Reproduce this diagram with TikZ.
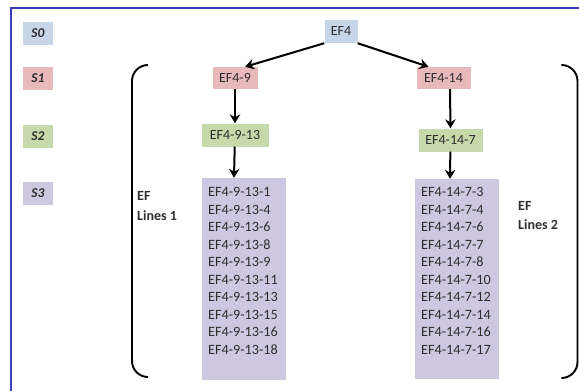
\documentclass[tikz,border=0pt]{standalone}
\usepackage{fontspec}
\setmainfont{Carlito}
\usetikzlibrary{arrows.meta}
\definecolor{cS0}{HTML}{C7D5E9}
\definecolor{cS1}{HTML}{E8B9BA}
\definecolor{cS2}{HTML}{C5D9AA}
\definecolor{cS3}{HTML}{CDC8DF}
\definecolor{frameblue}{HTML}{3C3DB4}
\definecolor{txt}{HTML}{2E2E2E}
\tikzset{
  box/.style={rectangle, inner sep=0pt, minimum height=23pt, text=txt,
    font=\fontsize{14}{17}\selectfont},
  lvl/.style={box, minimum width=30pt, font=\fontsize{13.5}{16}\selectfont\bfseries\itshape},
  listbox/.style={rectangle, fill=cS3, inner sep=0pt, minimum width=84pt},
  listtext/.style={inner sep=0pt, align=left, text=txt,
    font=\fontsize{14.2}{17.5}\selectfont},
  brtext/.style={inner sep=0pt, align=left, text=txt,
    font=\fontsize{14}{19.5}\selectfont\bfseries},
  conn/.style={line width=2pt, -{Stealth[length=9pt,width=10.5pt,inset=3pt]}},
  bracket/.style={line width=1.9pt, rounded corners=16pt},
}
\begin{document}
\begin{tikzpicture}[x=1pt,y=-1pt]
\useasboundingbox (0,0) rectangle (579,391);
% frame
\draw[frameblue, line width=1.8pt] (11,391) -- (11,8) -- (579,8);
% level legend
\node[lvl, fill=cS0] (s0) at (38,33.5) {S0};
\node[lvl, fill=cS1] (s1) at (38,78.5) {S1};
\node[lvl, fill=cS2] (s2) at (38,136.5) {S2};
\node[lvl, fill=cS3] (s3) at (38,193.5) {S3};
% tree
\node[box, fill=cS0, minimum width=33pt] (ef4) at (341,31.5) {EF4};
\node[box, fill=cS1, minimum width=45pt, minimum height=22pt] (ef49) at (235,78) {EF4-9};
\node[box, fill=cS1, minimum width=54pt, minimum height=22pt] (ef414) at (443.5,78) {EF4-14};
\node[box, fill=cS2, minimum width=67pt] (ef4913) at (235,135) {EF4-9-13};
\node[box, fill=cS2, minimum width=64pt] (ef4147) at (450.5,140) {EF4-14-7};
\node[listbox, minimum height=202pt] (list1) at (244,279) {};
\node[listbox, minimum height=200pt] (list2) at (457,279) {};
\node[listtext, anchor=north west] (list1t) at (208,187.5) {EF4-9-13-1\\EF4-9-13-4\\EF4-9-13-6\\EF4-9-13-8\\EF4-9-13-9\\EF4-9-13-11\\EF4-9-13-13\\EF4-9-13-15\\EF4-9-13-16\\EF4-9-13-18};
\node[listtext, anchor=north west] (list2t) at (421,187.5) {EF4-14-7-3\\EF4-14-7-4\\EF4-14-7-6\\EF4-14-7-7\\EF4-14-7-8\\EF4-14-7-10\\EF4-14-7-12\\EF4-14-7-14\\EF4-14-7-16\\EF4-14-7-17};
% connectors
\draw[conn] (ef4.south west) -- ([xshift=10pt]ef49.north);
\draw[conn] (ef4.south east) -- ([xshift=-15pt]ef414.north);
\draw[conn] (ef49) -- (ef4913);
\draw[conn] ([xshift=6.5pt]ef414.south) -- (ef4147.north);
\draw[conn] (ef4913) -- ([xshift=-10pt]list1.north);
\draw[conn] (ef4147) -- ([xshift=-7pt]list2.north);
% brackets
\coordinate (b1a) at (148,65);
\coordinate (b1m) at (132,220);
\coordinate (b1b) at (148,377);
\coordinate (b2a) at (562,65);
\coordinate (b2m) at (577.5,220);
\coordinate (b2b) at (562,378);
\draw[bracket] (b1a) -| (b1m) |- (b1b);
\draw[bracket] (b2a) -| (b2m) |- (b2b);
\node[brtext, anchor=north west] (lab1) at (137,191.5) {EF\\Lines 1};
\node[brtext, anchor=north west] (lab2) at (518,201) {EF\\Lines 2};
\end{tikzpicture}
\end{document}
